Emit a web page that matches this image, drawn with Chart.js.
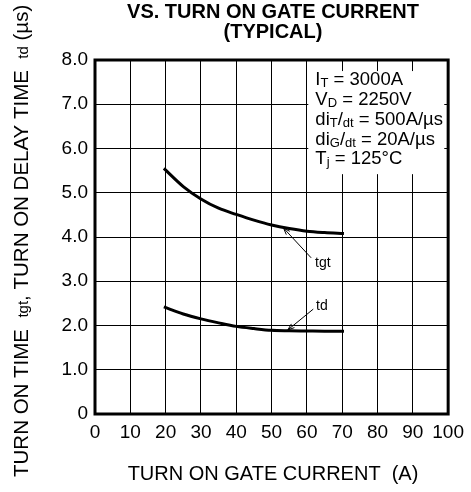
<!DOCTYPE html>
<html><head><meta charset="utf-8">
<script src="https://cdn.jsdelivr.net/npm/chart.js@4/dist/chart.umd.min.js"></script>
<style>html,body{margin:0;padding:0;background:#fff}canvas{display:block}</style>
</head><body>
<canvas id="c" width="471" height="492"></canvas>
<script>
// ---- data ----
const gateCurrent = [19.5, 25, 30, 35, 40, 45, 50, 55, 60, 65, 70.5];
const tgtValues   = [5.55, 5.14, 4.86, 4.65, 4.51, 4.38, 4.27, 4.19, 4.13, 4.10, 4.08];
const tdValues    = [2.42, 2.26, 2.15, 2.06, 1.98, 1.93, 1.89, 1.88, 1.875, 1.87, 1.87];
const xTickLabels = ['0','10','20','30','40','50','60','70','80','90','100'];
const yTickLabels = ['0','1.0','2.0','3.0','4.0','5.0','6.0','7.0','8.0'];
const titleLines  = ['VS. TURN ON GATE CURRENT', '(TYPICAL)'];
const xTitle = 'TURN ON GATE CURRENT  (A)';
const yTitleRuns = [['TURN ON TIME  ',''],['tgt','sub'],[', TURN ON DELAY TIME  ',''],['td','sub'],[' (\u00b5s)','']];
const conditionRuns = [
  [['I',''],['T','sub'],[' = 3000A','']],
  [['V',''],['D','sub'],[' = 2250V','']],
  [['di',''],['T','sub'],['/',''],['dt','sub'],[' = 500A/\u00b5s','']],
  [['di',''],['G','sub'],['/',''],['dt','sub'],[' = 20A/\u00b5s','']],
  [['T',''],['j','sub'],[' = 125\u00b0C','']]
];
const curveLabels = ['tgt', 'td'];

const FONT = '"Liberation Sans", Arial, sans-serif';

function drawRuns(ctx, x, y, runs, size, subSize, subShift) {
  for (const [txt, kind] of runs) {
    ctx.font = (kind === 'sub' ? subSize : size) + 'px ' + FONT;
    ctx.fillText(txt, x, y + (kind === 'sub' ? subShift : 0));
    x += ctx.measureText(txt).width;
  }
  return x;
}
function arrowLine(ctx, x1, y1, x2, y2) {
  ctx.beginPath(); ctx.moveTo(x1, y1); ctx.lineTo(x2, y2); ctx.stroke();
  const a = Math.atan2(y2 - y1, x2 - x1), L = 7, s = 0.35;
  ctx.beginPath();
  ctx.moveTo(x2 - L * Math.cos(a - s), y2 - L * Math.sin(a - s));
  ctx.lineTo(x2, y2);
  ctx.lineTo(x2 - L * Math.cos(a + s), y2 - L * Math.sin(a + s));
  ctx.stroke();
}

const decor = {
  id: 'decor',
  beforeDatasetsDraw(chart) {
    const {ctx, scales: {x, y}} = chart;
    ctx.save();
    ctx.fillStyle = '#fff';
    const l = x.getPixelForValue(60.4), r = x.getPixelForValue(98.9);
    const t = y.getPixelForValue(7.75), b = y.getPixelForValue(5.42);
    ctx.fillRect(l, t, r - l, b - t);
    ctx.restore();
  },
  afterDatasetsDraw(chart) {
    const {ctx, chartArea: a, scales: {x, y}} = chart;
    ctx.save();
    ctx.strokeStyle = '#000'; ctx.lineWidth = 3;
    ctx.strokeRect(a.left, a.top, a.right - a.left, a.bottom - a.top);
    ctx.lineWidth = 1;
    arrowLine(ctx, x.getPixelForValue(61.2), y.getPixelForValue(3.53), x.getPixelForValue(53.4), y.getPixelForValue(4.20));
    arrowLine(ctx, x.getPixelForValue(61.8), y.getPixelForValue(2.37), x.getPixelForValue(54.6), y.getPixelForValue(1.90));
    ctx.fillStyle = '#000';
    ctx.textBaseline = 'alphabetic'; ctx.textAlign = 'left';
    ctx.font = '14px ' + FONT;
    ctx.fillText(curveLabels[0], x.getPixelForValue(62.3), y.getPixelForValue(3.33));
    ctx.fillText(curveLabels[1], x.getPixelForValue(62.6), y.getPixelForValue(2.36));
    const cx = x.getPixelForValue(62.4);
    const base = [7.44, 6.99, 6.54, 6.09, 5.66];
    conditionRuns.forEach((runs, i) => drawRuns(ctx, cx, y.getPixelForValue(base[i]), runs, 18.5, 13, 2));
    ctx.restore();
  },
  afterDraw(chart) {
    const {ctx} = chart;
    ctx.save();
    ctx.fillStyle = '#000';
    ctx.textBaseline = 'alphabetic';
    ctx.textAlign = 'center';
    ctx.font = 'bold 20px ' + FONT;
    ctx.fillText(titleLines[0], 273, 18);
    ctx.fillText(titleLines[1], 273, 38);
    ctx.font = '20px ' + FONT;
    ctx.fillText(xTitle, 273, 480);
    ctx.textAlign = 'left';
    ctx.translate(28, 477);
    ctx.rotate(-Math.PI / 2);
    drawRuns(ctx, 0, 0, yTitleRuns, 20.5, 15, 0);
    ctx.restore();
  }
};

const points = (xs, ys) => xs.map((v, i) => ({x: v, y: ys[i]}));

new Chart(document.getElementById('c'), {
  type: 'line',
  data: {
    datasets: [
      {label: 'tgt', data: points(gateCurrent, tgtValues), borderColor: '#000', borderWidth: 3, pointRadius: 0, cubicInterpolationMode: 'monotone', fill: false},
      {label: 'td', data: points(gateCurrent, tdValues), borderColor: '#000', borderWidth: 3, pointRadius: 0, cubicInterpolationMode: 'monotone', fill: false}
    ]
  },
  options: {
    responsive: false,
    animation: false,
    devicePixelRatio: 1,
    layout: {padding: {top: 60, right: 20, left: 0, bottom: 0}},
    plugins: {legend: {display: false}, title: {display: false}, tooltip: {enabled: false}},
    scales: {
      x: {
        type: 'linear', min: 0, max: 100,
        afterFit: s => { s.height = 78; },
        grid: {color: '#000', lineWidth: 1, drawTicks: false},
        border: {display: false},
        ticks: {stepSize: 10, padding: 7, color: '#000', font: {family: FONT, size: 19},
          callback: v => xTickLabels[Math.round(v / 10)], maxRotation: 0, autoSkip: false}
      },
      y: {
        min: 0, max: 8,
        afterFit: s => { s.width = 95; },
        grid: {color: '#000', lineWidth: 1, drawTicks: false},
        border: {display: false},
        ticks: {stepSize: 1, padding: 7, color: '#000', font: {family: FONT, size: 19},
          callback: v => yTickLabels[Math.round(v)], autoSkip: false}
      }
    }
  },
  plugins: [decor]
});
</script>
</body></html>
